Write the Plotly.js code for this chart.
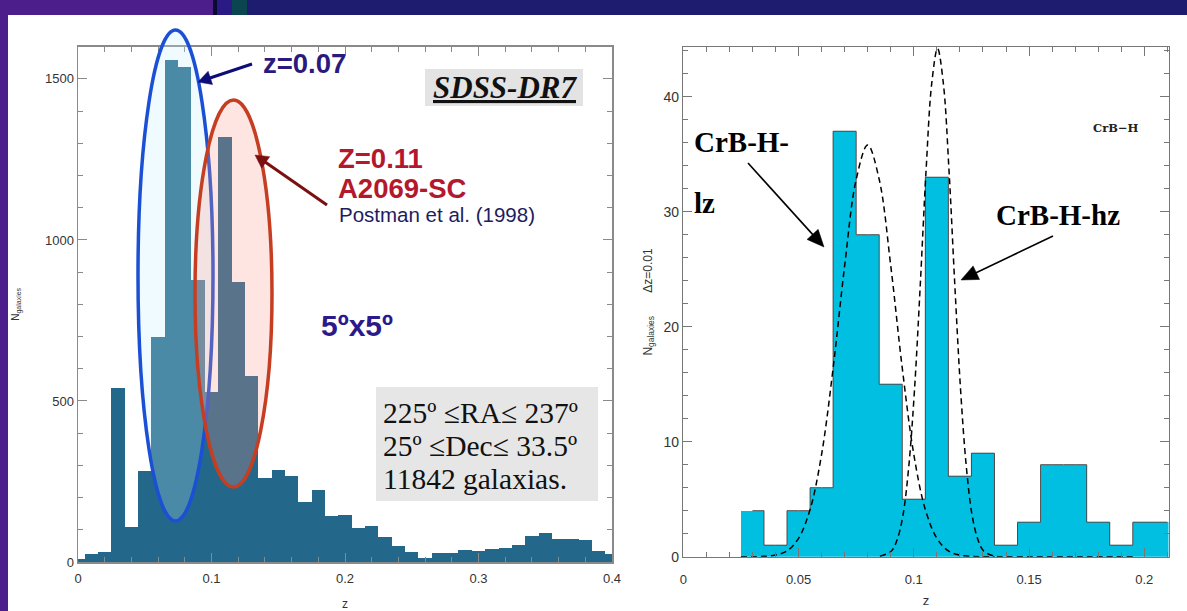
<!DOCTYPE html>
<html>
<head>
<meta charset="utf-8">
<script src="https://cdn.plot.ly/plotly-3.0.1.min.js"></script>
<style>html,body{margin:0;padding:0;background:#1e1c6e;}#chart{width:1187px;height:611px;}</style>
</head>
<body>
<div id="chart"></div>
<script>
// ---------- DATA ----------
// Left panel: SDSS-DR7 redshift histogram, bins of 0.01 centred on these values
const leftZ = [0.00,0.01,0.02,0.03,0.04,0.05,0.06,0.07,0.08,0.09,0.10,0.11,0.12,0.13,0.14,0.15,0.16,0.17,0.18,0.19,0.20,
               0.21,0.22,0.23,0.24,0.25,0.26,0.27,0.28,0.29,0.30,0.31,0.32,0.33,0.34,0.35,0.36,0.37,0.38,0.39,0.40];
const leftN = [10,25,30,540,110,282,700,1560,1538,875,527,1320,870,578,262,285,267,187,222,144,146,
               106,112,78,50,32,13,29,27,37,34,41,42,52,81,89,72,72,68,34,24];

// Right panel: CrB-H histogram, bins of 0.01 centred on these values
const rightZ = [0.03,0.04,0.05,0.06,0.07,0.08,0.09,0.10,0.11,0.12,0.13,0.14,0.15,0.16,0.17,0.18,0.19,0.20,0.21];
const rightN = [4,1,4,6,37,28,15,5,33,7,9,1,3,8,8,3,1,3,3];

// Dashed fitted curves
const lowZ  = [0.025,0.030,0.035,0.040,0.045,0.050,0.055,0.060,0.065,0.070,0.075,0.080,0.085,0.090,0.095,0.100,0.105,0.110,0.115,0.120,0.125,0.130,0.135];
const lowN  = [0,0,0.03,0.14,0.5,1.6,4.1,8.9,16.4,25.3,32.8,35.8,32.8,25.3,16.4,8.9,4.1,1.6,0.5,0.14,0.03,0,0];
const highZ = [0.0853,0.0903,0.0928,0.0953,0.0978,0.1003,0.1028,0.1053,0.1078,0.1103,0.1128,0.1153,0.1178,0.1203,0.1228,0.1253,0.1278,0.1303,0.1353,0.1403,0.150,0.160,0.170,0.180,0.195];
const highN = [0.04,0.5,1.5,3.6,7.8,14.5,23.6,33.5,41.2,44.2,41.2,33.5,23.6,14.5,7.8,3.6,1.5,0.5,0.04,0,0,0,0,0,0];

// Tick settings
const leftXTicks = [0,0.1,0.2,0.3,0.4];
const leftYTicks = [0,500,1000,1500];
const rightXTicks = [0,0.05,0.1,0.15,0.2];
const rightYTicks = [0,10,20,30,40];

// ---------- LAYOUT HELPERS ----------
const W = 1187, H = 611;
const px = x => x / W;
const py = y => 1 - y / H;

const tickFont = {family: 'Liberation Sans, Arial, sans-serif', size: 13, color: '#333'};
function axisBase(extra) {
  return Object.assign({
    showgrid: false, zeroline: false, showline: true, linecolor: '#8a8a8a', linewidth: 1.5,
    mirror: 'allticks', ticks: 'inside', ticklen: 9, tickwidth: 1, tickcolor: '#8a8a8a',
    tickfont: tickFont, fixedrange: true, automargin: false
  }, extra);
}

const traces = [
  {type: 'bar', x: leftZ, y: leftN, width: 0.01, xaxis: 'x', yaxis: 'y',
   marker: {color: '#23688a', line: {width: 0}}, hoverinfo: 'skip'},
  {type: 'bar', x: rightZ, y: rightN, width: 0.01, xaxis: 'x2', yaxis: 'y2',
   marker: {color: '#00bfe0', line: {width: 0}}, hoverinfo: 'skip'},
  {type: 'scatter', mode: 'lines', x: rightZ, y: rightN, xaxis: 'x2', yaxis: 'y2',
   line: {shape: 'hvh', color: '#4a4a4a', width: 1}, hoverinfo: 'skip'},
  {type: 'scatter', mode: 'lines', x: lowZ, y: lowN, xaxis: 'x2', yaxis: 'y2',
   line: {shape: 'spline', smoothing: 1, color: '#000', width: 1.5, dash: '6px,4px'}, hoverinfo: 'skip'},
  {type: 'scatter', mode: 'lines', x: highZ, y: highN, xaxis: 'x2', yaxis: 'y2',
   line: {shape: 'spline', smoothing: 1, color: '#000', width: 1.5, dash: '6px,4px'}, hoverinfo: 'skip'}
];

// arrow drawn as a line plus a filled triangular head (pixel positions -> paper)
function arrowShapes(hx, hy, tx, ty, color, width, L, hw) {
  const dx = hx - tx, dy = hy - ty, len = Math.hypot(dx, dy);
  const ux = dx / len, uy = dy / len, nx = -uy, ny = ux;
  const bx = hx - L * ux, by = hy - L * uy;
  const p = (x, y) => px(x) + ',' + py(y);
  return [
    {type: 'line', xref: 'paper', yref: 'paper', x0: px(tx), y0: py(ty), x1: px(bx + ux * 2), y1: py(by + uy * 2),
     line: {color: color, width: width}},
    {type: 'path', xref: 'paper', yref: 'paper',
     path: 'M' + p(hx, hy) + ' L' + p(bx + hw * nx, by + hw * ny) + ' L' + p(bx - hw * nx, by - hw * ny) + ' Z',
     fillcolor: color, line: {color: color, width: 0.5}}
  ];
}

const shapes = [
  // slide background pieces
  {type: 'rect', xref: 'paper', yref: 'paper', x0: px(0), x1: px(213), y0: py(0), y1: py(15), fillcolor: '#4b1e8c', line: {width: 0}, layer: 'below'},
  {type: 'rect', xref: 'paper', yref: 'paper', x0: px(0), x1: px(8), y0: py(15), y1: py(611), fillcolor: '#4b1e8c', line: {width: 0}, layer: 'below'},
  {type: 'rect', xref: 'paper', yref: 'paper', x0: px(213), x1: px(217), y0: py(0), y1: py(15), fillcolor: '#0a0a30', line: {width: 0}, layer: 'below'},
  {type: 'rect', xref: 'paper', yref: 'paper', x0: px(217), x1: px(232), y0: py(0), y1: py(15), fillcolor: '#2a1a86', line: {width: 0}, layer: 'below'},
  {type: 'rect', xref: 'paper', yref: 'paper', x0: px(232), x1: px(247), y0: py(0), y1: py(15), fillcolor: '#0b4650', line: {width: 0}, layer: 'below'},
  {type: 'rect', xref: 'paper', yref: 'paper', x0: px(8), x1: px(1187), y0: py(15), y1: py(611), fillcolor: '#ffffff', line: {width: 0}, layer: 'below'},
  // grey label boxes
  {type: 'rect', xref: 'paper', yref: 'paper', x0: px(425), x1: px(583), y0: py(69), y1: py(106), fillcolor: '#e3e3e3', line: {width: 0}},
  {type: 'rect', xref: 'paper', yref: 'paper', x0: px(376), x1: px(598), y0: py(387), y1: py(501), fillcolor: '#e6e6e6', line: {width: 0}},
  // ellipses
  {type: 'circle', xref: 'paper', yref: 'paper', x0: px(138), x1: px(213), y0: py(30), y1: py(521),
   fillcolor: 'rgba(190,240,255,0.25)', line: {color: '#1c50d4', width: 3.5}},
  {type: 'circle', xref: 'paper', yref: 'paper', x0: px(195), x1: px(272), y0: py(100), y1: py(487),
   fillcolor: 'rgba(250,150,140,0.25)', line: {color: '#c63e22', width: 3.5}}
].concat(
  arrowShapes(198, 82, 252, 64, '#0d0d7a', 3, 13, 7),
  arrowShapes(255, 155, 327, 205, '#7a1010', 3, 13, 7),
  arrowShapes(824, 247, 748, 163, '#000', 1.6, 17, 7.5),
  arrowShapes(961, 280, 1053, 236, '#000', 1.6, 17, 7.5)
);

const sans = 'Liberation Sans, Arial, sans-serif';
const serif = 'Liberation Serif, Times New Roman, serif';
function txt(x, y, text, font, extra) {
  return Object.assign({xref: 'paper', yref: 'paper', x: px(x), y: py(y), text: text, showarrow: false,
    xanchor: 'left', yanchor: 'middle', font: font}, extra || {});
}

const annotations = [
  txt(261, 64, 'z=0.07', {family: sans, size: 27.5, color: '#2b1a7e', weight: 'bold'}),
  txt(505, 88, '<b><i><u>SDSS-DR7</u></i></b>', {family: serif, size: 31, color: '#111'}, {xanchor: 'center'}),
  txt(336, 158, 'Z=0.11', {family: sans, size: 27.5, color: '#b3182c', weight: 'bold'}),
  txt(336, 188, 'A2069-SC', {family: sans, size: 27.5, color: '#b3182c', weight: 'bold'}),
  txt(337, 214, 'Postman et al. (1998)', {family: sans, size: 20.5, color: '#1d1d5e'}),
  txt(319, 325, '5ºx5º', {family: sans, size: 30, color: '#2b1a8c', weight: 'bold'}),
  txt(381, 413, '225º ≤RA≤ 237º', {family: serif, size: 29.5, color: '#111'}),
  txt(381, 446, '25º ≤Dec≤ 33.5º', {family: serif, size: 29.5, color: '#111'}),
  txt(381, 479, '11842 galaxias.', {family: serif, size: 29.5, color: '#111'}),
  txt(692, 142, 'CrB-H-', {family: serif, size: 29, color: '#000', weight: 'bold'}),
  txt(692, 203, 'lz', {family: serif, size: 29, color: '#000', weight: 'bold'}),
  txt(994, 215, 'CrB-H-hz', {family: serif, size: 29, color: '#000', weight: 'bold'}),
  txt(1091, 128, 'CrB−H', {family: 'DejaVu Serif, serif', size: 11.5, color: '#222', weight: 'bold'})
];

const layout = {
  width: W, height: H, margin: {l: 0, r: 0, t: 0, b: 0},
  paper_bgcolor: '#1e1c6e', plot_bgcolor: 'rgba(0,0,0,0)',
  showlegend: false, bargap: 0, barmode: 'overlay',
  xaxis: axisBase({domain: [px(78), px(612)], range: [0, 0.4], anchor: 'y', tickvals: leftXTicks,
    ticklabelstandoff: 4,
    minor: {dtick: 0.02, ticks: 'inside', ticklen: 5, tickcolor: '#8a8a8a'},
    title: {text: 'z', font: {family: sans, size: 12, color: '#333'}, standoff: 14}}),
  yaxis: axisBase({domain: [py(562), py(46.7)], range: [0, 1600], anchor: 'x', tickvals: leftYTicks,
    minor: {dtick: 100, ticks: 'inside', ticklen: 5, tickcolor: '#8a8a8a'},
    title: {text: 'N<sub>galaxies</sub>', font: {family: sans, size: 10, color: '#333'}, standoff: 23}}),
  xaxis2: axisBase({domain: [px(683.3), px(1168.5)], range: [0, 0.2105], anchor: 'y2', tickvals: rightXTicks,
    linecolor: '#777', tickcolor: '#777', ticklabelstandoff: 10,
    minor: {dtick: 0.01, ticks: 'inside', ticklen: 5, tickcolor: '#777'},
    title: {text: 'z', font: {family: sans, size: 13, color: '#333'}, standoff: 10}}),
  yaxis2: axisBase({domain: [py(556.7), py(47.3)], range: [0, 44.3], anchor: 'x2', tickvals: rightYTicks,
    linecolor: '#777', tickcolor: '#777', tickfont: {family: sans, size: 14, color: '#333'},
    minor: {dtick: 2, ticks: 'inside', ticklen: 5, tickcolor: '#777'},
    title: {text: 'N<sub>galaxies</sub>\u00a0\u00a0\u00a0\u00a0\u00a0\u00a0\u00a0Δz=0.01', font: {family: sans, size: 12, color: '#333'}, standoff: 8}}),
  shapes: shapes,
  annotations: annotations
};

Plotly.newPlot('chart', traces, layout, {displayModeBar: false, staticPlot: true});
</script>
</body>
</html>
